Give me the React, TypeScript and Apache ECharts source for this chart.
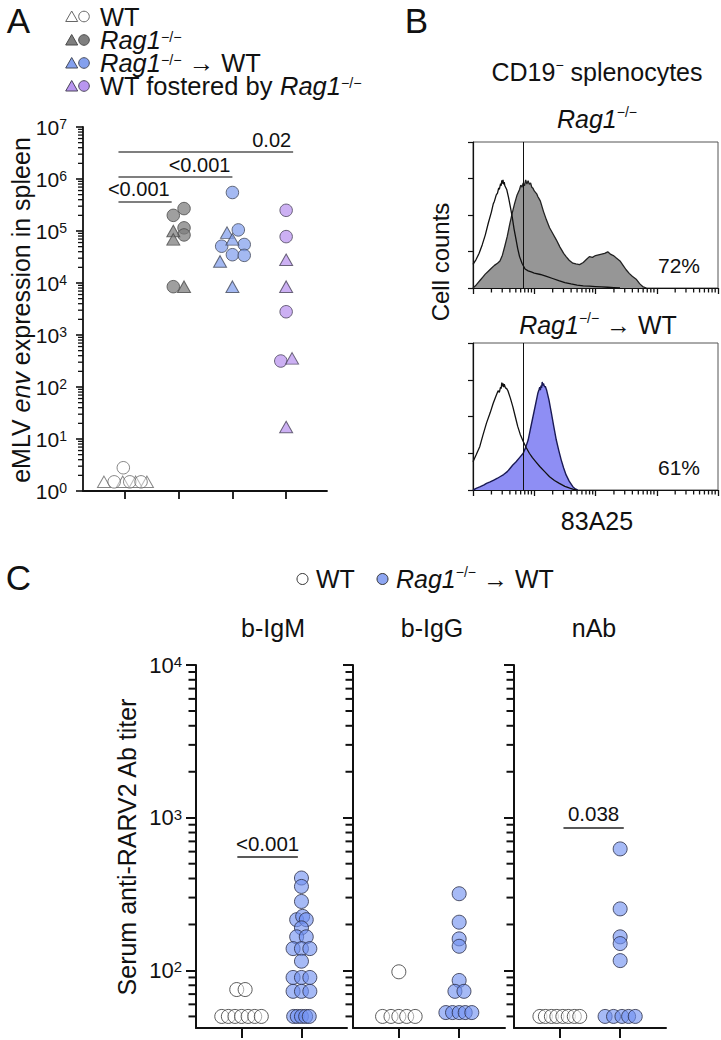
import React, { useEffect, useRef } from 'react';
import * as echarts from 'echarts';

const FONT = "'Liberation Sans', Arial, Helvetica, sans-serif";
const INK = '#111111';

// ---------------- Panel A : eMLV env expression (values, log scale) ----------------
const wtTriVals = [1.5, 1.5, 1.5, 1.5];
const wtTriJit = [-0.39, -0.04, 0.2, 0.41];
const wtCircVals = [2.8, 1.5, 1.5, 1.5];
const wtCircJit = [-0.03, -0.2, 0.09, 0.3];

const ragCircVals = [2.7e5, 2.0e5, 1.15e5, 8.4e4, 8.5e3];
const ragCircJit = [0.1, -0.1, 0.1, 0.1, -0.1];
const ragTriVals = [1.0e5, 6.9e4, 8.5e3];
const ragTriJit = [-0.1, -0.1, 0.1];

const ragWtCircVals = [5.5e5, 1.05e5, 5.5e4, 5.1e4, 3.5e4, 3.4e4];
const ragWtCircJit = [0, 0.11, 0.22, -0.2, 0, 0.22];
const ragWtTriVals = [9.3e4, 6.9e4, 2.6e4, 8.5e3];
const ragWtTriJit = [-0.1, 0, -0.23, 0];

const fostCircVals = [2.5e5, 7.8e4, 2.8e3, 316];
const fostCircJit = [0, 0, 0, -0.1];
const fostTriVals = [2.8e4, 8.5e3, 355, 17];
const fostTriJit = [0, 0, 0.11, 0];

const sigALabels = ['<0.001', '<0.001', '0.02'];
const sigAFrom = [0.88, 0.88, 0.88];
const sigATo = [1.87, 3.0, 4.13];
const sigALevel = [3.7e5, 1.1e6, 3.35e6];

// ---------------- Panel B : 83A25 histograms ----------------
const gateB = 0.82;
const ctrlTop = [
  [0, 0.65], [0.05, 0.78], [0.1, 0.95], [0.15, 1.18], [0.2, 1.45], [0.25, 1.78], [0.3, 2.08],
  [0.33, 2.3], [0.35, 2.38], [0.38, 2.55], [0.4, 2.6], [0.42, 2.74], [0.43, 2.7], [0.45, 2.86],
  [0.46, 2.8], [0.47, 2.95], [0.48, 2.86], [0.49, 2.96], [0.5, 2.84], [0.51, 2.9], [0.52, 2.8],
  [0.55, 2.7], [0.58, 2.48], [0.61, 2.22], [0.64, 1.95], [0.67, 1.62], [0.7, 1.35], [0.73, 1.08],
  [0.76, 0.86], [0.8, 0.68], [0.85, 0.52], [0.9, 0.47], [0.95, 0.44], [1.0, 0.41], [1.1, 0.37],
  [1.2, 0.32], [1.3, 0.26], [1.4, 0.2], [1.5, 0.15], [1.6, 0.11], [1.7, 0.08], [1.8, 0.06],
  [1.9, 0.05], [2.0, 0.04], [2.1, 0.03], [2.2, 0.02], [2.3, 0.01], [2.4, 0]
];
const ragTop = [
  [0, 0], [0.04, 0.06], [0.08, 0.14], [0.12, 0.22], [0.16, 0.3], [0.2, 0.38], [0.25, 0.46],
  [0.3, 0.54], [0.35, 0.62], [0.4, 0.68], [0.44, 0.74], [0.48, 0.9], [0.52, 1.15], [0.56, 1.42],
  [0.6, 1.75], [0.64, 2.05], [0.68, 2.32], [0.72, 2.55], [0.76, 2.7], [0.78, 2.82], [0.8, 2.76],
  [0.82, 2.88], [0.84, 2.8], [0.86, 2.96], [0.88, 2.85], [0.9, 2.94], [0.92, 2.84], [0.94, 2.88],
  [0.96, 2.76], [0.98, 2.73], [1.0, 2.66], [1.02, 2.62], [1.04, 2.58], [1.06, 2.5], [1.08, 2.44],
  [1.1, 2.38], [1.15, 2.1], [1.2, 1.86], [1.25, 1.65], [1.3, 1.5], [1.36, 1.32], [1.42, 1.12],
  [1.48, 0.95], [1.52, 0.86], [1.57, 0.76], [1.6, 0.72], [1.63, 0.68], [1.68, 0.66], [1.74, 0.64],
  [1.8, 0.7], [1.85, 0.78], [1.9, 0.86], [1.95, 0.84], [2.0, 0.89], [2.05, 0.91], [2.1, 0.93],
  [2.15, 0.95], [2.2, 0.99], [2.25, 0.92], [2.3, 0.88], [2.34, 0.82], [2.4, 0.74], [2.45, 0.62],
  [2.5, 0.5], [2.55, 0.4], [2.6, 0.32], [2.67, 0.23], [2.72, 0.12], [2.77, 0.04], [2.83, 0]
];
const ctrlBottom = [
  [0, 0.77], [0.05, 0.95], [0.11, 1.18], [0.16, 1.48], [0.22, 1.82], [0.28, 2.1], [0.33, 2.36],
  [0.38, 2.58], [0.41, 2.7], [0.43, 2.66], [0.45, 2.8], [0.46, 2.76], [0.47, 2.92], [0.48, 2.82],
  [0.49, 2.9], [0.5, 2.8], [0.51, 2.88], [0.53, 2.78], [0.55, 2.76], [0.57, 2.7], [0.61, 2.5],
  [0.65, 2.27], [0.69, 2.0], [0.73, 1.73], [0.77, 1.52], [0.82, 1.32], [0.87, 1.15], [0.92, 1.0],
  [0.97, 0.88], [1.03, 0.76], [1.09, 0.64], [1.17, 0.5], [1.25, 0.36], [1.33, 0.26], [1.41, 0.18],
  [1.5, 0.1], [1.58, 0.05], [1.64, 0.02], [1.69, 0]
];
const ragWtBottom = [
  [0, 0], [0.06, 0.05], [0.12, 0.09], [0.18, 0.14], [0.22, 0.18], [0.28, 0.22], [0.34, 0.27],
  [0.4, 0.32], [0.44, 0.36], [0.5, 0.42], [0.56, 0.5], [0.6, 0.58], [0.65, 0.68], [0.7, 0.76],
  [0.76, 0.88], [0.82, 1.0], [0.86, 1.16], [0.9, 1.36], [0.94, 1.68], [0.98, 2.0], [1.02, 2.32],
  [1.06, 2.64], [1.08, 2.74], [1.09, 2.8], [1.1, 2.72], [1.11, 2.84], [1.12, 2.78], [1.13, 2.94],
  [1.14, 2.84], [1.15, 2.9], [1.17, 2.8], [1.18, 2.82], [1.2, 2.73], [1.24, 2.45], [1.28, 2.09],
  [1.32, 1.72], [1.36, 1.36], [1.4, 1.08], [1.44, 0.82], [1.48, 0.6], [1.52, 0.41], [1.57, 0.24],
  [1.63, 0.09], [1.67, 0.03], [1.71, 0]
];
const pctTop = '72%';
const pctBottom = '61%';

// ---------------- Panel C : serum anti-RARV2 titers ----------------
const titerExp = [2, 3, 4];
const titerMin = 42;

const igmWtVals = [75, 75, 50, 50, 50, 50, 50, 50, 50];
const igmWtJit = [-0.08, 0.06, -0.33, -0.22, -0.11, 0, 0.11, 0.22, 0.33];
const igmRagVals = [403, 355, 283, 215, 226, 215, 190, 166, 166, 139, 139, 139, 115, 90, 90, 90, 73, 73, 73, 50, 50, 50, 50, 50];
const igmRagJit = [0, 0, 0, -0.08, 0.02, 0.08, 0, -0.08, 0.08, -0.14, 0, 0.14, 0, -0.14, 0, 0.14, -0.14, 0, 0.14, -0.13, -0.07, 0, 0.07, 0.13];

const iggWtVals = [98, 50, 50, 50, 50, 50];
const iggWtJit = [0, -0.27, -0.13, 0, 0.13, 0.27];
const iggRagVals = [318, 207, 161, 144, 86, 73, 73, 53, 53, 53, 53, 53];
const iggRagJit = [0, 0, 0, 0, 0, -0.07, 0.08, -0.22, -0.11, 0, 0.1, 0.21];

const nabWtVals = [50, 50, 50, 50, 50, 50, 50, 50];
const nabWtJit = [-0.33, -0.24, -0.14, -0.05, 0.05, 0.14, 0.24, 0.33];
const nabRagVals = [625, 253, 166, 150, 116, 50, 50, 50, 50, 50];
const nabRagJit = [0, 0, 0, 0, 0, -0.25, -0.11, 0.03, 0.14, 0.25];

const sigIgm = { label: '<0.001', from: 0.93, to: 1.94, level: 552 };
const sigNab = { label: '0.038', from: 1.06, to: 2.06, level: 865 };

// ---------------- helpers ----------------
const lg = (v: number) => Math.log10(v);
const pts = (cat: number, jit: number[], vals: number[]) => vals.map((v, i) => [cat + jit[i], lg(v)]);

// minor log tick positions (2..9 within each decade)
const minorLog = (fromExp: number, toExp: number, lowest: number) => {
  const out: number[] = [];
  for (let k = fromExp; k < toExp; k++) {
    for (let m = 2; m <= 9; m++) {
      const v = m * Math.pow(10, k);
      if (v >= lowest) out.push(lg(v));
    }
  }
  return out;
};

const supLabel = (base: number, sup: number) => ({
  b: { fontSize: base, color: INK, fontFamily: FONT },
  s: { fontSize: sup, color: INK, fontFamily: FONT, verticalAlign: 'top', lineHeight: sup * 0.6 }
});

const richT = (size: number, lh: number) => ({
  n: { fontSize: size, fill: INK, fontFamily: FONT, lineHeight: lh },
  i: { fontSize: size, fill: INK, fontFamily: FONT, fontStyle: 'italic', lineHeight: lh },
  s: { fontSize: size * 0.56, fill: INK, fontFamily: FONT, verticalAlign: 'top', lineHeight: size * 0.26 }
});

const txt = (x: number, y: number, text: string, size: number, extra: any = {}) => ({
  type: 'text', x, y, silent: true, rotation: extra.rotation || 0,
  style: {
    text, fontSize: size, fontFamily: FONT, fill: INK,
    align: extra.align || 'center', verticalAlign: 'middle',
    rich: richT(size, extra.lh || Math.round(size * 1.15)),
    fontStyle: extra.fontStyle || 'normal'
  }
});

const axisLine = (w: number) => ({ show: true, onZero: false, lineStyle: { color: '#111', width: w } });

// minor tick marks drawn as rect-symbol scatter points sitting on an axis, pushed outward
const yTickMarks = (xi: number, yi: number, xMin: number, values: number[], len: number, w: number) => ({
  type: 'scatter', xAxisIndex: xi, yAxisIndex: yi, silent: true, clip: false, z: 6,
  data: values.map((v) => [xMin, v]), symbol: 'rect', symbolSize: [len, w], symbolOffset: [-len / 2, 0],
  itemStyle: { color: '#111', opacity: 1 }, emphasis: { disabled: true }
});
const xTickMarks = (xi: number, yi: number, yMin: number, values: number[], len: number, w: number) => ({
  type: 'scatter', xAxisIndex: xi, yAxisIndex: yi, silent: true, clip: false, z: 6,
  data: values.map((v) => [v, yMin]), symbol: 'rect', symbolSize: [w, len], symbolOffset: [0, len / 2],
  itemStyle: { color: '#111', opacity: 1 }, emphasis: { disabled: true }
});

export default function App() {
  const ref = useRef<HTMLDivElement>(null);

  useEffect(() => {
    document.body.style.margin = '0';
    const chart = echarts.init(ref.current!, null, { renderer: 'svg' });

    const grids = [
      { left: 83, top: 127, width: 244, height: 364 },
      { left: 473, top: 142, width: 245, height: 146, show: true, borderColor: '#555', borderWidth: 1, backgroundColor: 'transparent' },
      { left: 473, top: 343, width: 245, height: 147, show: true, borderColor: '#555', borderWidth: 1, backgroundColor: 'transparent' },
      { left: 196, top: 665, width: 151, height: 363 },
      { left: 353, top: 665, width: 152, height: 363 },
      { left: 514, top: 665, width: 152, height: 363 }
    ].map((g) => ({ ...g, containLabel: false, outerBoundsMode: 'none' }));

    const hidden = () => ({ show: false });
    const expLabel = (v: number) => `{b|10}{s|${Math.round(v)}}`;
    const xMinA = 0.22;
    const xMinC = 0.24;

    const xAxes: any[] = [
      { gridIndex: 0, type: 'value', min: xMinA, max: 4.76, axisLine: axisLine(1.8),
        axisTick: { show: true, customValues: [1, 2, 3, 4], length: 8, lineStyle: { color: '#111', width: 1.8 } },
        axisLabel: hidden(), splitLine: hidden() },
      ...[1, 2].map((gi) => ({
        gridIndex: gi, type: 'value', min: 0, max: 4, interval: 1, axisLine: axisLine(1.2),
        axisTick: { show: true, length: 6, lineStyle: { color: '#111', width: 1.3 } },
        axisLabel: hidden(), splitLine: hidden()
      })),
      ...[3, 4, 5].map((gi) => ({
        gridIndex: gi, type: 'value', min: xMinC, max: 2.76, axisLine: axisLine(2),
        axisTick: { show: true, customValues: [1, 2], length: 10, lineStyle: { color: '#111', width: 2 } },
        axisLabel: hidden(), splitLine: hidden()
      }))
    ];

    const yAxes: any[] = [
      { gridIndex: 0, type: 'value', min: 0, max: 7, interval: 1, position: 'left', axisLine: axisLine(1.8),
        axisTick: { show: true, length: 7, lineStyle: { color: '#111', width: 1.6 } },
        axisLabel: { show: true, margin: 16, formatter: expLabel, rich: supLabel(21, 14) },
        splitLine: hidden() },
      ...[1, 2].map((gi) => ({
        gridIndex: gi, type: 'value', min: 0, max: 4, interval: 1, position: 'left', axisLine: axisLine(1.2),
        axisTick: { show: true, length: 5, lineStyle: { color: '#111', width: 1.2 } },
        axisLabel: hidden(), splitLine: hidden()
      }))
    ];
    [3, 4, 5].forEach((gi) => {
      yAxes.push({
        gridIndex: gi, type: 'value', min: lg(titerMin), max: 4, position: 'left', axisLine: axisLine(2),
        axisTick: { show: true, customValues: titerExp, length: 10, lineStyle: { color: '#111', width: 2 } },
        axisLabel: gi === 3
          ? { show: true, customValues: titerExp, margin: 14, formatter: expLabel, rich: supLabel(22, 15) }
          : hidden(),
        splitLine: hidden()
      });
    });

    const sc = (xi: number, yi: number, data: number[][], symbol: string, size: any,
      fill: string, stroke: string, bw = 1, extra: any = {}) => ({
      type: 'scatter', xAxisIndex: xi, yAxisIndex: yi, data, symbol, symbolSize: size, silent: true,
      itemStyle: { color: fill, borderColor: stroke, borderWidth: bw }, emphasis: { disabled: true },
      ...extra
    });

    const TRI = [13, 11.5];
    const CIR = 12.5;
    const cWT = 'rgba(255,255,255,0.55)';
    const cRag = 'rgba(125,125,125,0.92)';
    const cBlue = 'rgba(129,158,237,0.9)';
    const cPurple = 'rgba(184,146,238,0.9)';

    const sigLineA = {
      silent: true, symbol: ['none', 'none'],
      lineStyle: { color: '#555', width: 1.5, type: 'solid' },
      label: { show: true, position: 'insideEndTop', formatter: '{b}', fontSize: 20, color: INK, fontFamily: FONT, distance: 2 },
      data: sigALabels.map((lab, i) => [
        { coord: [sigAFrom[i], lg(sigALevel[i])], name: lab },
        { coord: [sigATo[i], lg(sigALevel[i])] }
      ])
    };

    const sigC = (s: any) => ({
      silent: true, symbol: ['none', 'none'],
      lineStyle: { color: '#222', width: 1.5, type: 'solid' },
      label: { show: true, position: 'insideMiddleTop', formatter: '{b}', fontSize: 20.5, color: INK, fontFamily: FONT, distance: 3 },
      data: [[{ coord: [s.from, lg(s.level)], name: s.label }, { coord: [s.to, lg(s.level)] }]]
    });

    const gate = {
      silent: true, symbol: ['none', 'none'], label: { show: false },
      lineStyle: { color: '#111', width: 1, type: 'solid' },
      data: [{ xAxis: gateB }]
    };

    const hist = (xi: number, yi: number, data: number[][], stroke: string, fill: string | null, w: number, extra: any = {}) => ({
      type: 'line', xAxisIndex: xi, yAxisIndex: yi, data, symbol: 'none', showSymbol: false, silent: true,
      lineStyle: { color: stroke, width: w }, emphasis: { disabled: true },
      ...(fill ? { areaStyle: { color: fill, opacity: 1, origin: 'start' } } : {}),
      ...extra
    });

    const cWTc = 'rgba(255,255,255,0.6)';
    const cBlueC = 'rgba(112,144,240,0.78)';
    const CC = 14;

    const series: any[] = [
      // minor log ticks
      yTickMarks(0, 0, xMinA, minorLog(0, 7, 1), 5, 1.3),
      xTickMarks(1, 1, 0, minorLog(0, 4, 1), 4.5, 1.3),
      xTickMarks(2, 2, 0, minorLog(0, 4, 1), 4.5, 1.3),
      yTickMarks(3, 3, xMinC, minorLog(1, 4, titerMin), 7.5, 2),
      yTickMarks(4, 4, xMinC, minorLog(1, 4, titerMin), 7.5, 2),
      yTickMarks(5, 5, xMinC, minorLog(1, 4, titerMin), 7.5, 2),
      // Panel A
      sc(0, 0, pts(1, wtTriJit, wtTriVals), 'triangle', TRI, cWT, '#666'),
      sc(0, 0, pts(1, wtCircJit, wtCircVals), 'circle', CIR, cWT, '#666', 1, { markLine: sigLineA }),
      sc(0, 0, pts(2, ragCircJit, ragCircVals), 'circle', CIR, cRag, '#4a4a4a'),
      sc(0, 0, pts(2, ragTriJit, ragTriVals), 'triangle', TRI, cRag, '#4a4a4a'),
      sc(0, 0, pts(3, ragWtCircJit, ragWtCircVals), 'circle', CIR, cBlue, '#444a5a'),
      sc(0, 0, pts(3, ragWtTriJit, ragWtTriVals), 'triangle', TRI, cBlue, '#444a5a'),
      sc(0, 0, pts(4, fostCircJit, fostCircVals), 'circle', CIR, cPurple, '#4a445a'),
      sc(0, 0, pts(4, fostTriJit, fostTriVals), 'triangle', TRI, cPurple, '#4a445a'),
      // Panel B
      hist(1, 1, ragTop, '#222', '#969696', 1.3),
      hist(1, 1, ctrlTop, '#111', null, 1.3, { markLine: gate }),
      hist(2, 2, ragWtBottom, '#1a1a55', '#8e8ef4', 1.4),
      hist(2, 2, ctrlBottom, '#111', null, 1.3, { markLine: gate }),
      // Panel C
      sc(3, 3, pts(1, igmWtJit, igmWtVals), 'circle', CC, cWTc, '#333'),
      sc(3, 3, pts(2, igmRagJit, igmRagVals), 'circle', CC, cBlueC, '#2a2d45', 1, { markLine: sigC(sigIgm) }),
      sc(4, 4, pts(1, iggWtJit, iggWtVals), 'circle', CC, cWTc, '#333'),
      sc(4, 4, pts(2, iggRagJit, iggRagVals), 'circle', CC, cBlueC, '#2a2d45'),
      sc(5, 5, pts(1, nabWtJit, nabWtVals), 'circle', CC, cWTc, '#333'),
      sc(5, 5, pts(2, nabRagJit, nabRagVals), 'circle', CC, cBlueC, '#2a2d45', 1, { markLine: sigC(sigNab) })
    ];

    // legend glyphs for panel A
    const legendRows = [
      { y: 16.5, fill: '#ffffff', stroke: '#666', text: 'WT' },
      { y: 40, fill: '#7f7f7f', stroke: '#4a4a4a', text: '{i|Rag1}{s|−/−}' },
      { y: 63, fill: '#84a0ee', stroke: '#444a5a', text: '{i|Rag1}{s|−/−}{n| → WT}' },
      { y: 86, fill: '#b996f0', stroke: '#4a445a', text: '{n|WT fostered by }{i|Rag1}{s|−/−}' }
    ];
    const graphics: any[] = [];
    legendRows.forEach((r) => {
      graphics.push({ type: 'polygon', silent: true,
        shape: { points: [[65.7, r.y + 5], [77.7, r.y + 5], [71.7, r.y - 5.5]] },
        style: { fill: r.fill, stroke: r.stroke, lineWidth: 1 } });
      graphics.push({ type: 'circle', silent: true, shape: { cx: 84, cy: r.y, r: 5.3 },
        style: { fill: r.fill, stroke: r.stroke, lineWidth: 1 } });
      graphics.push(txt(100, r.y, r.text, 25.5, { align: 'left', lh: 21 }));
    });

    graphics.push(
      txt(18.5, 20, 'A', 35),
      txt(416.5, 20, 'B', 35),
      txt(18.5, 577, 'C', 35),
      txt(21, 310, '{n|eMLV }{i|env}{n| expression in spleen}', 25, { rotation: Math.PI / 2 }),
      txt(597, 72, '{n|CD19}{s|−}{n| splenocytes}', 25),
      txt(597, 119, '{i|Rag1}{s|−/−}', 25),
      txt(598, 325, '{i|Rag1}{s|−/−}{n| → WT}', 25),
      txt(440, 262, 'Cell counts', 24, { rotation: Math.PI / 2 }),
      txt(700, 265, pctTop, 21, { align: 'right' }),
      txt(700, 467, pctBottom, 21, { align: 'right' }),
      txt(597, 521, '83A25', 25),
      txt(316, 579, 'WT', 25, { align: 'left' }),
      txt(396, 579, '{i|Rag1}{s|−/−}{n| → WT}', 25, { align: 'left' }),
      txt(273, 628, 'b-IgM', 25),
      txt(432, 628, 'b-IgG', 25),
      txt(594, 628, 'nAb', 25),
      txt(127, 847, 'Serum anti-RARV2 Ab titer', 25, { rotation: Math.PI / 2 })
    );
    graphics.push(
      { type: 'circle', silent: true, shape: { cx: 302.5, cy: 579, r: 5.5 }, style: { fill: '#fff', stroke: '#333', lineWidth: 1 } },
      { type: 'circle', silent: true, shape: { cx: 382.5, cy: 579, r: 5.5 }, style: { fill: '#8ea6f2', stroke: '#333', lineWidth: 1 } }
    );

    chart.setOption({
      animation: false,
      backgroundColor: '#ffffff',
      textStyle: { fontFamily: FONT },
      grid: grids,
      xAxis: xAxes,
      yAxis: yAxes,
      series,
      graphic: graphics
    });

    return () => chart.dispose();
  }, []);

  return <div ref={ref} style={{ width: 721, height: 1040 }} />;
}
